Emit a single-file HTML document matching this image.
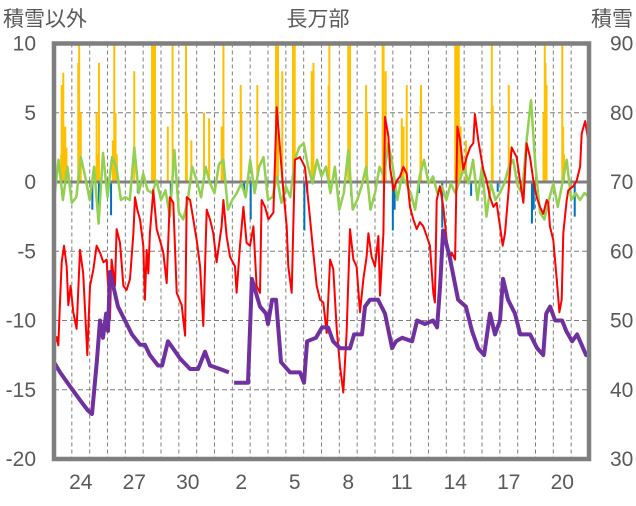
<!DOCTYPE html>
<html><head><meta charset="utf-8">
<style>
html,body{margin:0;padding:0;background:#fff;}
body{width:636px;height:501px;overflow:hidden;font-family:"Liberation Sans","Noto Sans CJK JP",sans-serif;}
svg text{font-family:"Liberation Sans","Noto Sans CJK JP",sans-serif;fill:#595959;}
</style></head>
<body>
<svg id="chart" width="636" height="501" viewBox="0 0 636 501">
<text x="3" y="26" font-size="21">積雪以外</text>
<text x="318" y="26" font-size="21" text-anchor="middle">長万部</text>
<text x="633" y="26" font-size="21" text-anchor="end">積雪</text>
<g id="grid"></g>
<g id="bars"></g>
<g id="lines"></g>
<g id="axes"></g>
</svg>
<script>
const leftTicks=[10,5,0,-5,-10,-15,-20];
const rightTicks=[90,80,70,60,50,40,30];
const dayLabels=["24","27","30","2","5","8","11","14","17","20"];
const dayLabelIdx=[1,4,7,10,13,16,19,22,25,28];
const numDays=30;
const orangeT=[0.40,0.43,0.52,0.56,0.63,0.70,1.36,1.41,1.46,1.50,2.39,2.45,2.52,3.30,3.38,3.45,3.52,4.50,5.50,5.55,5.60,5.66,6.38,6.65,7.40,7.45,7.70,8.41,8.70,9.40,9.50,10.47,10.50,11.40,12.45,12.50,12.56,12.80,13.40,13.45,13.50,14.45,14.55,15.40,15.44,16.50,16.55,16.60,17.50,17.55,18.43,18.48,18.60,19.50,19.60,19.78,20.55,20.58,22.50,22.55,22.60,22.65,22.70,22.80,23.10,24.55,24.60,25.50,27.45,27.52,27.56,27.62,28.50,28.55,28.60];
const orangeV=[2.0,7.0,7.9,4.0,4.0,2.5,8.6,10,3.0,5.0,5.0,2.0,8.6,3.0,10,5.0,2.0,8.0,10,10,10,10,4.0,10,10,5.0,3.0,5.0,4.6,4.0,10,7.0,5.0,7.0,10,10,10,8.0,10,10,10,8.0,8.6,7.0,10,10,10,10,7.0,5.0,10,10,8.0,4.6,4.0,7.0,5.5,7.0,10,10,10,10,10,4.0,3.0,10,5.5,7.0,5.0,10,8.6,7.0,10,4.0,2.0];
const blueT=[2.15,2.52,3.20,4.70,6.55,10.66,11.03,14.04,14.20,16.66,19.00,19.10,20.47,21.77,23.39,24.88,26.80,26.90,29.20];
const blueV=[-2.0,-1.8,-2.4,-0.8,-1.1,-0.8,-2.7,-3.5,-0.8,-1.0,-3.5,-2.0,-0.8,-3.3,-1.0,-0.7,-3.0,-2.0,-2.5];
const redT=[0,0.15,0.24,0.34,0.43,0.56,0.71,0.80,0.93,1.08,1.27,1.46,1.64,1.87,2.02,2.21,2.39,2.58,2.77,2.95,3.14,3.23,3.42,3.51,3.70,3.89,4.07,4.26,4.45,4.54,4.67,4.82,5.01,5.10,5.20,5.29,5.38,5.57,5.76,5.94,6.13,6.32,6.50,6.69,6.88,7.16,7.35,7.44,7.63,7.81,8.0,8.19,8.37,8.56,8.75,8.93,9.12,9.40,9.50,9.68,9.87,10.15,10.24,10.43,10.62,10.80,10.99,11.18,11.36,11.55,11.64,11.83,12.02,12.30,12.49,12.67,12.86,13.05,13.14,13.33,13.51,13.79,14.07,14.36,14.54,14.73,14.92,15.10,15.29,15.48,15.66,15.85,16.04,16.22,16.41,16.6,16.79,16.97,17.16,17.35,17.53,17.63,17.81,18.0,18.19,18.28,18.47,18.56,18.75,18.84,19.03,19.22,19.40,19.59,19.78,19.96,20.15,20.34,20.52,20.71,20.90,21.08,21.27,21.36,21.46,21.64,21.83,22.02,22.21,22.30,22.49,22.62,22.77,22.95,23.14,23.33,23.51,23.6,23.79,24.07,24.26,24.45,24.64,24.82,25.01,25.16,25.29,25.48,25.66,25.94,26.13,26.32,26.50,26.69,26.88,27.07,27.25,27.44,27.63,27.72,27.81,28.0,28.19,28.34,28.47,28.56,28.75,28.84,29.12,29.31,29.50,29.59,29.78,29.96,30.05];
const redV=[-11.8,-11.2,-11.8,-8.5,-5.8,-4.6,-6.1,-8.9,-7.5,-9.4,-10.6,-4.9,-6.6,-12.5,-7.5,-6.3,-4.6,-5.1,-5.8,-5.6,-9.9,-5.6,-7.5,-3.4,-4.4,-7.5,-7.8,-7.0,-3.7,-1.1,-2.0,-2.7,-4.6,-8.5,-4.9,-6.6,-3.7,-0.6,-3.4,-4.2,-5.1,-7.3,-1.1,-1.5,-8.0,-8.9,-11.1,-1.1,-1.3,-2.7,-4.2,-6.1,-10.4,-2.0,-2.7,-3.7,-5.8,-3.2,-1.3,-3.9,-5.4,-6.1,-8.0,-4.6,-1.8,-4.4,-4.6,-3.2,-7.5,-8.0,-1.3,-1.8,-2.7,-2.2,5.4,2.5,-0.6,-3.2,-6.1,-8.0,1.6,1.8,1.1,-2.7,-5.1,-7.5,-8.5,-8.7,-10.9,-5.6,-6.3,-10.6,-13.3,-15.2,-10.9,-3.4,-5.6,-6.1,-9.4,-7.0,-5.4,-3.7,-5.4,-6.1,-3.9,-8.2,-3.7,4.7,3.3,1.1,-0.6,0.1,0.4,1.1,0.6,-1.8,-2.7,-3.4,-2.9,-3.2,-3.9,-4.6,-8.0,-8.7,-1.3,-0.3,-1.8,-4.2,-5.6,-5.1,-5.6,4.0,3.0,0.9,1.8,2.5,2.8,4.9,3.0,0.9,0.1,-1.1,-1.8,-1.5,-3.2,-4.6,-3.7,-0.8,2.5,1.8,0.1,-1.5,2.8,1.8,0.1,-1.1,-1.8,-2.3,-1.3,-1.5,-3.2,-4.2,-7.0,-9.4,-8.5,-3.7,-1.3,-0.6,-0.3,0.1,1.1,3.5,4.4,3.0,1.7];
const greenV=[-1.3,1.6,-1.3,1.1,-1.5,-1.1,1.8,0.4,-1.3,1.1,-3.0,2.1,-1.1,1.8,1.1,-1.3,-1.1,-1.3,2.5,-0.8,0.6,-0.6,-0.8,0.1,-1.3,-0.6,-2.5,2.3,-2.2,-2.7,-1.3,1.1,0.1,-1.1,1.1,-0.1,-0.8,1.3,1.6,-2.0,-1.3,-0.8,-0.1,-1.1,1.6,-0.8,1.1,1.8,-1.3,-1.1,0.4,-1.5,-0.3,-1.1,1.6,2.5,2.8,1.1,-0.1,1.6,0.4,1.1,-0.8,1.1,-2.0,-0.8,2.3,-2.0,-1.3,-0.3,1.1,-2.0,-0.8,1.1,0.4,2.8,1.1,-1.3,0.4,-0.1,-0.8,-2.0,0.4,1.6,-0.1,0.4,-0.8,-0.3,-1.3,-0.1,-0.8,0.1,1.1,-0.1,1.6,-1.3,1.1,-2.5,-0.1,-1.3,-0.8,-0.1,1.1,1.6,-0.3,-0.8,3.0,5.9,1.1,-2.2,-2.7,-1.3,-0.1,-1.8,-0.1,1.6,-1.3,-0.8,-1.3,-0.8,-1.1];
const greenStep=0.25;
const purpleT=[0,0.34,0.9,1.46,1.9,2.13,2.4,2.58,2.75,2.92,3.03,3.14,3.59,3.98,4.37,4.82,5.1,5.38,5.83,6.06,6.39,6.67,7.07,7.63,8.08,8.47,8.75,9.31,9.81,null,10.1,10.88,11.1,11.55,11.89,12.0,12.23,12.45,12.73,13.24,13.8,14.02,14.19,14.69,15.03,15.37,15.65,16.04,16.6,16.83,17.27,17.44,17.72,18.17,18.56,18.96,19.18,19.52,20.08,20.36,20.8,21.26,21.48,21.65,21.82,22.2,22.66,23.1,23.44,23.78,24.12,24.45,24.73,25.01,25.18,25.46,25.85,26.14,26.7,27.09,27.43,27.6,27.82,28.1,28.49,28.72,29.05,29.33,29.67,29.84,30.0];
const purpleV=[44,42.5,40.5,38.5,37,36.5,44,50,47.5,51,48.5,57,52,50,48,46.5,46.5,45,43.5,43.5,47,46,44.5,43,43,45.5,43.5,43,42.5,null,41,41,56,52,51,49.5,53,53,44,42.5,42.5,41,47,47.5,49,49,47,46,46,48,48,52,53,53,51,46,47,47.5,47,50,49.5,50,49,55,63,59,53,52,48.5,46,45,51,48,50,56,53,51,48,48,46,45,51,52,50,50,48.5,47,48,46,45,45];

const X0=54,X1=589,Y10=43.5,YN20=459;
const NS='http://www.w3.org/2000/svg';
function xS(t){return X0+t*(X1-X0)/numDays;}
function yL(v){return YN20-(v+20)*(YN20-Y10)/30;}
function yR(v){return YN20-(v-30)*(YN20-Y10)/60;}
function mk(tag,attrs,parent){const e=document.createElementNS(NS,tag);for(const k in attrs)e.setAttribute(k,attrs[k]);parent.appendChild(e);return e;}
const grid=document.getElementById('grid'),bars=document.getElementById('bars'),lines=document.getElementById('lines'),axes=document.getElementById('axes');
for(let d=1;d<numDays;d++){
  const l=mk('line',{x1:xS(d),x2:xS(d),y1:Y10,y2:YN20,stroke:'#7f7f7f','stroke-width':1,'stroke-dasharray':'4,3'},grid);
  
  
}
leftTicks.forEach(v=>{
  if(v!==0&&v!==10&&v!==-20){
    const l=mk('line',{x1:X0,x2:X1,y1:yL(v),y2:yL(v),stroke:'#7f7f7f','stroke-width':1,'stroke-dasharray':'5,3'},grid);
    
    
  }
  const t=mk('text',{x:36,y:yL(v)+7,'font-size':21,'text-anchor':'end'},axes);
  t.textContent=String(v);
  
  
});
rightTicks.forEach(v=>{
  const t=mk('text',{x:610,y:yR(v)+7,'font-size':21},axes);
  t.textContent=String(v);
  
  
});
dayLabels.forEach((s,i)=>{
  const t=mk('text',{x:xS(dayLabelIdx[i]+0.5),y:489,'font-size':21,'text-anchor':'middle'},axes);
  t.textContent=s;
  
  
});
orangeT.forEach((t,i)=>{
  const v=Math.min(orangeV[i],10);
  const r=mk('rect',{x:xS(t)-1,y:yL(v),width:2,height:yL(0)-yL(v),fill:'#ffc000'},bars);
  
  
});
blueT.forEach((t,i)=>{
  const r=mk('rect',{x:xS(t)-1,y:yL(0),width:2,height:yL(blueV[i])-yL(0),fill:'#0070c0'},bars);
  
  
});
const zl=mk('line',{x1:X0,x2:X1,y1:yL(0),y2:yL(0),stroke:'#808080','stroke-width':3},bars);


function pathFrom(ts,vs,ys){let d='',pen=false;for(let i=0;i<ts.length;i++){if(ts[i]===null){pen=false;continue;}d+=(pen?'L':'M')+xS(ts[i]).toFixed(1)+','+ys(vs[i]).toFixed(1);pen=true;}return d;}
const gT=greenV.map((v,i)=>i*greenStep);
const g=mk('path',{d:pathFrom(gT,greenV,yL),fill:'none',stroke:'#92d050','stroke-width':2.5,'stroke-linejoin':'round'},lines);


const r=mk('path',{d:pathFrom(redT,redV,yL),fill:'none',stroke:'#ff0000','stroke-width':2,'stroke-linejoin':'round'},lines);


const p=mk('path',{d:pathFrom(purpleT,purpleV,yR),fill:'none',stroke:'#7030a0','stroke-width':4,'stroke-linejoin':'round'},lines);


const b=mk('rect',{x:X0,y:Y10,width:X1-X0,height:YN20-Y10,fill:'none',stroke:'#7f7f7f','stroke-width':4.5},axes);


</script>
</body></html>
